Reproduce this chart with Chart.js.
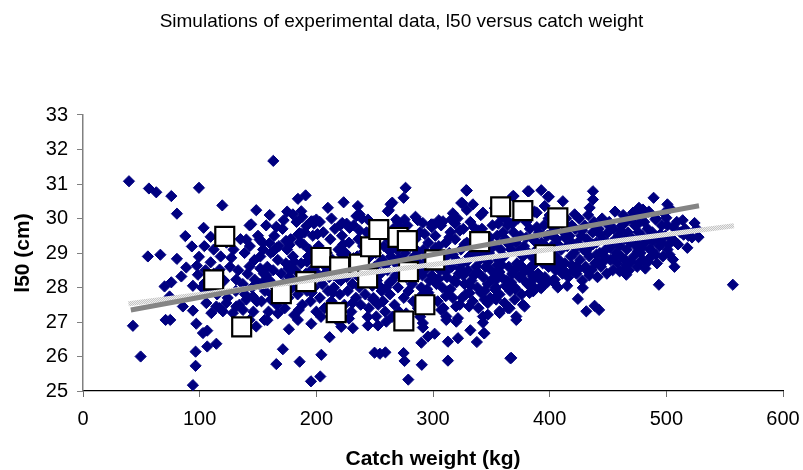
<!DOCTYPE html>
<html><head><meta charset="utf-8">
<script src="https://cdn.jsdelivr.net/npm/chart.js@4.4.0/dist/chart.umd.min.js"></script>
<style>html,body{margin:0;padding:0;background:#fff}#wrap{width:803px;height:470px}</style>
</head><body><div id="wrap"><canvas id="c" width="803" height="470"></canvas></div>
<script>
const chartTitle = 'Simulations of experimental data, l50 versus catch weight';
const xTitle = 'Catch weight (kg)';
const yTitle = 'l50 (cm)';
const xTicks = [0, 100, 200, 300, 400, 500, 600];
const yTicks = [25, 26, 27, 28, 29, 30, 31, 32, 33];

// experimental data (white squares)
const expWeight = [112, 121.5, 136, 170, 191, 204, 217, 220, 237, 244, 246.5, 253.5, 270, 278, 279, 275, 293, 301.5, 340, 358, 377, 407, 396];
const expL50    = [28.22, 29.48, 26.86, 27.82, 28.17, 28.87, 27.27, 28.6, 28.68, 28.28, 29.18, 29.68, 29.45, 29.36, 28.46, 27.03, 27.5, 28.8, 29.33, 30.34, 30.23, 30.02, 28.95];

// trend lines (end points)
const trendExpX = [41, 528];
const trendExpY = [27.35, 30.37];
const trendSimX = [39, 558];
const trendSimY = [27.53, 29.79];

// simulated data (navy diamonds), [catch weight, l50]
const simLeft = [[39.4,31.08],[56.5,30.87],[62.8,30.76],[75.7,30.65],[99.4,30.89],[80.5,30.14],[119.4,30.38],[148.5,30.24],[103.4,29.73],[87.7,29.49],[93.3,29.19],[109.4,29.47],[142.8,29.8],[55.6,28.9],[66.3,28.95],[80.5,28.83],[99.4,28.89],[97.6,28.63],[88.5,28.58],[84.3,28.32],[69.9,28.03],[75.7,28.15],[94.2,28.05],[74.2,27.74],[85.6,27.45],[94.2,27.33],[70.8,27.06],[74.8,27.06],[42.8,26.89],[97.1,26.95],[106.5,26.75],[106.5,26.29],[114.3,26.37],[96.5,26.14],[49.4,26.0],[96.5,25.73],[94.2,25.17],[109.4,28.73],[117.1,28.52],[127.1,28.86],[131.4,28.23],[140,29.39],[138.5,29.0],[142.8,28.61],[147.1,28.23],[151.4,29.39],[105.7,27.55],[114.3,27.45],[122.8,27.55],[131.4,27.45],[140,27.65],[145.6,27.74],[110,27.26],[119.9,27.31],[128.5,27.26],[137.1,27.35],[142.8,27.06],[148.5,26.87],[102.8,26.68],[98.5,28.37],[104.2,28.13]];

const simUpper = [[163.1,31.67],[184.2,30.57],[190.8,30.67],[179.9,30.12],[187.1,30.21],[195.7,29.92],[200,29.97],[209.9,30.31],[223.4,30.47],[235.6,30.36],[234.3,30.07],[220.5,29.8],[228.5,29.73],[165.7,29.76],[191.4,29.78],[184.2,29.53],[262.2,30.24],[265.1,30.46],[276.5,30.89],[274.8,30.6],[275.6,29.97],[291.3,29.87],[244.2,29.97],[268.5,29.97],[144.2,29.83],[160,29.29],[154.3,29.1],[177.1,29.24],[185.7,29.58],[197.1,29.92],[222.2,29.87],[237.1,30.12],[263.6,30.41],[261.3,30.21],[328.5,30.82],[324.2,30.45],[334.2,30.41],[298.5,29.83],[307.1,29.87],[315.7,29.97],[342.8,30.17]];

const simLower = [[155.7,27.06],[176.5,26.79],[184.2,27.06],[195.7,26.95],[211.4,26.56],[171.3,26.21],[165.7,25.78],[185.7,25.85],[204.3,26.05],[195.4,25.28],[203.4,25.42],[221.4,26.86],[231.3,26.82],[244.2,26.9],[252.8,26.9],[249.9,26.11],[259.2,26.12],[254.5,26.08],[274.8,26.1],[275.6,25.87],[278.8,25.33],[290.4,25.76],[290,26.4],[291.3,26.84],[295.7,26.58],[301.4,26.66],[312.8,26.43],[321.4,26.53],[312.8,25.88],[332,26.76],[337.6,26.42],[344,26.67],[342.8,26.98],[367.1,25.96],[371.4,27.06],[320,27.01],[311.4,27.06],[248.5,27.65],[311.4,27.16],[321.4,27.11],[319.7,27.45],[342.8,27.16],[331.4,27.84],[344.2,27.65],[257.1,27.6],[251.4,27.16],[260,27.01],[291.3,26.97]];

const simRight = [[329,30.81],[325.1,30.45],[381.3,30.79],[392.8,30.82],[398.5,30.63],[411.3,30.5],[437.1,30.79],[437.1,30.55],[434.3,30.31],[369.1,30.65],[300,29.83],[318.5,30.02],[308.5,29.92],[382.2,30.79],[399.3,30.63],[368.5,30.65],[421.4,30.12],[388.9,30.17],[395.7,30.36],[347,27.21],[354.2,27.65],[357.1,27.31],[364.3,27.4],[378.5,27.45],[385.9,27.89],[393.1,28.03],[404.2,28.23],[411.3,28.47],[428.4,27.99],[424.2,27.67],[431.4,27.31],[438.5,27.47],[343.6,26.68],[366.3,25.95],[489.1,30.6],[500.9,30.41],[476.5,30.31],[479.9,30.26],[471.4,30.17],[500,30.02],[490.8,29.97],[500.9,29.8],[524.2,29.87],[527.6,29.46],[514.8,29.53],[507.1,29.34],[495.7,29.31],[488.5,29.34],[475.6,29.29],[475.6,29.05],[502.8,28.95],[505.7,28.81],[484.2,28.76],[477.1,28.71],[465.7,28.66],[442.8,28.71],[460,28.47],[465.7,28.37],[493.6,28.08],[557,28.08],[442.4,27.35],[354.3,28.23],[364.3,28.18],[377.1,28.42],[385.7,28.32],[394.3,28.23],[414.3,28.42],[422.8,28.61],[431.4,28.52],[440,28.71],[385.7,28.03],[392.8,27.98],[404.2,28.13],[352.8,27.69],[361.4,27.55],[370,27.65],[377.1,27.5],[382.8,27.84],[357.1,27.26],[371.4,27.16],[365.7,27.4]];

const simCoreA = [[102,28.0],[105,28.5],[108,27.9],[112,28.4],[115,27.8],[118,28.9],[121,28.2],[124,27.7],[126,28.6],[129,29.1],[131,27.9],[133,28.5],[135,29.4],[137,28.1],[139,27.8],[141,28.4],[143,29.2],[145,28.0],[147,28.8],[149,27.6],[150,29.5],[112,29.1],[123,29.3],[134,27.5],[146,27.3],[104,29.2],[117,27.4],
[151,28.1],[152,28.9],[153,27.6],[154,29.3],[155,28.4],[156,27.9],[157,29.8],[158,28.6],[159,27.3],[160,28.2],[161,29.0],[162,27.8],[163,28.5],[164,29.5],[165,28.0],[166,27.5],[167,28.8],[168,29.2],[169,27.9],[170,28.4],[171,29.7],[172,28.1],[173,27.4],[174,28.7],[175,29.1],[176,27.7],[177,28.3],[178,29.4],[179,28.0],[180,28.9],[181,27.2],[182,28.5],[183,29.9],[184,27.8],[185,28.2],[186,29.3],[187,28.7],[188,27.5],[189,28.0],[190,29.6],[191,28.4],[192,27.9],[193,28.9],[194,29.1],[195,27.6],[196,28.3],[197,29.5],[198,28.0],[199,28.6],[200,27.3],[154,28.15],[158,27.05],[163,29.05],[167,27.25],[172,29.95],[176,28.55],[181,28.75],[185,27.35],[189,29.25],[194,28.45],[198,29.85],[160,30.1],[175,30.2],[188,30.05]];

const simCoreB = [[201,28.4],[202,29.2],[203,27.7],[204,28.9],[205,28.1],[206,29.6],[207,27.4],[208,28.6],[209,29.0],[210,27.9],[211,28.3],[212,29.4],[213,27.6],[214,28.8],[215,28.0],[216,29.7],[217,27.2],[218,28.5],[219,29.1],[220,27.8],[221,28.2],[222,29.5],[223,28.7],[224,27.5],[225,29.0],[226,28.3],[227,27.9],[228,29.3],[229,28.6],[230,27.3],[231,28.1],[232,29.8],[233,28.4],[234,27.7],[235,28.9],[236,29.4],[237,28.0],[238,27.5],[239,28.7],[240,29.2],[241,28.3],[242,27.8],[243,29.6],[244,28.5],[245,27.4],[246,28.9],[247,28.1],[248,29.3],[249,27.7],[250,28.6],[251,29.0],[252,28.2],[253,27.5],[254,29.5],[255,28.4],[256,27.9],[257,28.8],[258,29.2],[259,27.3],[260,28.0],[204,27.15],[209,28.45],[213,30.0],[218,27.05],[222,28.95],[226,29.85],[231,27.55],[235,28.35],[239,30.0],[244,27.15],[248,28.05],[252,29.75],[257,27.6],[203,29.9],[215,28.35],[228,27.1],[241,29.05],[255,28.75],
[261,28.5],[262,29.4],[263,27.8],[264,28.9],[265,28.2],[266,29.7],[267,27.5],[268,28.7],[269,29.1],[270,28.0],[271,27.3],[272,28.4],[273,29.5],[274,28.8],[275,27.7],[276,29.0],[277,28.3],[278,29.8],[279,27.9],[280,28.6],[281,29.2],[282,28.1],[283,27.6],[284,28.9],[285,29.4],[286,28.4],[287,27.4],[288,28.7],[289,29.6],[290,28.0],[291,27.8],[292,29.1],[293,28.5],[294,27.5],[295,28.8],[296,29.3],[297,28.2],[298,27.7],[299,29.0],[300,28.6],[263,28.15],[267,29.25],[271,28.85],[275,28.35],[279,29.45],[283,28.55],[287,29.95],[291,28.35],[295,27.95],[299,29.75],[265,27.15],[277,27.25],[289,27.15],[270,29.9],[285,30.05]];

const simCoreC = [[301,28.9],[302,29.5],[303,28.1],[304,27.6],[305,29.2],[306,28.5],[307,29.8],[308,28.0],[309,27.4],[310,28.7],[311,29.3],[312,28.3],[313,27.9],[314,29.0],[315,29.6],[316,28.6],[317,27.7],[318,28.2],[319,29.4],[320,28.8],[321,30.0],[322,28.4],[323,27.5],[324,29.1],[325,28.7],[326,29.7],[327,28.1],[328,27.8],[329,29.3],[330,28.5],[331,28.9],[332,29.9],[333,28.2],[334,27.6],[335,29.0],[336,29.5],[337,28.6],[338,28.0],[339,27.4],[340,28.8],[341,29.2],[342,29.7],[343,28.3],[344,27.9],[345,28.6],[346,29.4],[347,28.1],[348,29.0],[349,27.7],[350,28.5],[351,29.8],[352,29.2],[353,28.4],[354,28.0],[355,29.5],[356,28.8],[357,27.8],[358,29.1],[359,28.3],[360,29.6],[303,28.65],[307,27.35],[311,28.45],[315,27.95],[319,29.85],[323,28.55],[327,29.25],[331,27.45],[335,28.35],[339,29.65],[343,28.95],[347,27.55],[351,28.25],[355,28.65],[359,30.05],[305,29.95],[317,30.15],[329,30.25],[341,30.1],[353,30.3],[313,28.95],[325,27.7],[337,29.05],[349,29.45],[357,28.45],
[361,28.9],[362,29.4],[363,28.2],[364,29.8],[365,28.6],[366,27.9],[367,29.1],[368,28.4],[369,29.6],[370,28.0],[371,29.3],[372,28.7],[373,30.0],[374,28.3],[375,29.5],[376,27.8],[377,28.9],[378,29.2],[379,28.5],[380,29.9],[381,28.1],[382,29.0],[383,29.7],[384,28.6],[385,28.2],[386,29.4],[387,30.2],[388,28.8],[389,29.1],[390,28.4],[391,29.6],[392,28.0],[393,29.3],[394,28.7],[395,29.8],[396,28.3],[397,29.0],[398,29.5],[399,28.6],[400,30.1],[401,28.9],[402,29.2],[403,28.2],[404,29.7],[405,28.5],[406,29.4],[407,28.0],[408,28.8],[409,29.9],[410,29.1],[411,28.4],[412,29.6],[413,28.7],[414,30.0],[415,29.2],[416,28.3],[417,29.5],[418,28.9],[419,29.8],[420,28.5],[363,29.95],[367,28.15],[371,27.95],[375,28.65],[379,30.15],[383,28.45],[387,29.35],[391,28.25],[395,28.95],[399,30.0],[403,29.5],[407,28.65],[411,29.85],[415,28.05],[419,29.3]];

const simCoreD = [[421,29.0],[422,29.7],[423,28.4],[424,29.3],[425,30.0],[426,28.8],[427,29.5],[428,28.2],[429,29.1],[430,29.8],[431,28.6],[432,29.4],[433,30.1],[434,28.9],[435,29.2],[436,28.5],[437,29.6],[438,29.9],[439,28.7],[440,29.3],[441,28.3],[442,29.7],[443,29.0],[444,28.6],[445,30.0],[446,29.4],[447,28.9],[448,29.1],[449,28.4],[450,29.6],[451,29.9],[452,28.8],[453,29.3],[454,28.5],[455,29.7],[456,30.2],[457,29.0],[458,28.7],[459,29.5],[460,29.2],[461,28.9],[462,29.8],[463,30.1],[464,29.4],[465,28.8],[466,29.1],[467,29.6],[468,28.5],[469,29.3],[470,30.0],
[471,29.4],[472,28.9],[473,29.8],[474,29.2],[475,28.6],[476,29.6],[477,30.1],[478,29.0],[479,29.5],[480,28.8],[481,29.9],[482,29.3],[483,28.7],[484,29.7],[485,30.2],[486,29.1],[487,28.9],[488,29.6],[490,29.4],[491,30.0],[492,28.7],[494,29.2],[496,29.8],[497,28.9],[499,29.5],[501,29.1],[503,30.3],[505,29.4],[507,28.6],[509,29.9],[512,29.6],[516,29.7],[519,29.5]];

const simCoreE = [[281,28.75],[284,28.25],[287,29.05],[290,28.55],[293,29.55],[296,27.85],[299,28.35],[302,29.15],[305,28.25],[308,28.85],[311,27.75],[314,29.45],[317,28.95],[320,28.15],[323,29.65],[326,28.35],[329,28.75],[332,28.05],[335,29.75],[338,28.45],[341,27.85],[344,29.35],[347,28.75],[350,29.15],[353,27.95],[356,29.85],[359,28.65],[362,28.05],[365,29.25],[368,29.85],[371,28.55],[374,29.05],[377,28.25],[380,29.45],[383,28.95],[386,28.65],[389,29.75],[392,28.85],[395,29.25],[398,28.15],[401,29.55],[404,28.95],[407,29.25],[410,28.55],[413,29.45],[416,29.75],[419,28.65],[422,29.15],[425,28.55],[428,29.65],[431,29.05],[434,28.35],[437,29.25],[440,28.95],[443,29.55],[446,28.75],[449,29.85],[452,29.15],[455,28.85],[458,29.45],[461,29.65],[464,28.55],[467,29.95],[470,28.75],[473,29.35],[476,29.85],[479,29.15],[482,28.55],[485,29.45],[488,29.05],[491,28.95],[495,29.55],[498,30.15],[502,29.25],[506,29.75],[510,29.25],[514,29.95],[518,29.15],[522,29.45],[526,29.7],
[152,28.55],[157,28.35],[161,27.65],[166,29.15],[170,27.75],[174,29.35],[179,28.55],[183,28.05],[187,29.55],[192,28.75],[196,27.85],[201,29.55],[206,28.35],[210,28.75],[214,27.85],[219,28.25],[223,29.25],[228,28.45],[232,28.85],[237,29.65],[241,28.55],[246,28.25],[250,29.35],[254,28.05],[259,28.65],[263,29.05],[268,28.35],[272,29.75],[276,28.55]];

const FONT = "'Liberation Sans', Arial, Helvetica, sans-serif";
Chart.defaults.font.family = FONT;
Chart.defaults.color = '#000';

const toXY = arr => arr.map(p => ({x: p[0], y: p[1]}));
const simAll = toXY([].concat(simLeft, simUpper, simLower, simRight, simCoreA, simCoreB, simCoreC, simCoreD, simCoreE));
const expAll = expWeight.map((x, i) => ({x, y: expL50[i]}));
const trendExp = trendExpX.map((x, i) => ({x, y: trendExpY[i]}));
const trendSim = trendSimX.map((x, i) => ({x, y: trendSimY[i]}));

// light speckled pattern for the simulated-data trend line
const pc = document.createElement('canvas');
pc.width = 2; pc.height = 2;
const pg = pc.getContext('2d');
pg.fillStyle = '#c4c4c4'; pg.fillRect(0, 0, 2, 2);
pg.fillStyle = '#eeeeee'; pg.fillRect(0, 0, 1, 1); pg.fillRect(1, 1, 1, 1);
const lightPattern = pg.createPattern(pc, 'repeat');

new Chart(document.getElementById('c'), {
  type: 'scatter',
  data: {
    datasets: [
      {label: 'Trend (experimental)', data: trendExp, showLine: true, borderColor: '#858585', borderWidth: 5, pointRadius: 0, order: 0, clip: false},
      {label: 'Trend (simulated)', data: trendSim, showLine: true, borderColor: lightPattern, borderWidth: 5, pointRadius: 0, order: 1, clip: false},
      {label: 'Experimental', data: expAll, pointStyle: 'rect', pointRadius: 13.4, backgroundColor: '#ffffff', borderColor: '#000000', borderWidth: 2.2, order: 2, clip: false},
      {label: 'Simulated', data: simAll, pointStyle: 'rectRot', pointRadius: 5.6, backgroundColor: '#000080', borderColor: '#000080', borderWidth: 1, order: 3, clip: false}
    ]
  },
  options: {
    responsive: false,
    animation: false,
    devicePixelRatio: 1,
    events: [],
    layout: {padding: {left: 0, right: 0, top: 0, bottom: 0}},
    plugins: {
      legend: {display: false},
      tooltip: {enabled: false},
      title: {
        display: true, text: chartTitle, color: '#000',
        font: {family: FONT, size: 19, weight: 'normal', lineHeight: 1.2},
        padding: {top: 10.6, bottom: 81.6}
      }
    },
    scales: {
      x: {
        type: 'linear', min: 0, max: 600,
        afterBuildTicks: s => { s.ticks = xTicks.map(v => ({value: v})); },
        afterFit: s => { s.height = 79; s.paddingLeft = 0; s.paddingRight = 20; },
        border: {display: true, color: '#000', width: 1.2},
        grid: {drawOnChartArea: false, drawTicks: true, tickLength: 6, color: '#6a6a6a', lineWidth: 1},
        ticks: {color: '#000', font: {family: FONT, size: 20}, padding: 10, maxRotation: 0},
        title: {display: true, text: xTitle, color: '#000', font: {family: FONT, size: 21, weight: 'bold', lineHeight: 1}, padding: {top: 0, bottom: 0.5}}
      },
      y: {
        type: 'linear', min: 25, max: 33,
        afterBuildTicks: s => { s.ticks = yTicks.map(v => ({value: v})); },
        afterFit: s => { s.width = 83; s.paddingTop = 0; s.paddingBottom = 0; },
        border: {display: true, color: '#808080', width: 1.5},
        grid: {drawOnChartArea: false, drawTicks: true, tickLength: 6, color: '#808080', lineWidth: 1},
        ticks: {color: '#000', font: {family: FONT, size: 20}, padding: 9},
        title: {display: true, text: yTitle, color: '#000', font: {family: FONT, size: 21, weight: 'bold', lineHeight: 1}, padding: {top: 12.5, bottom: 0}}
      }
    }
  }
});
</script>
</body></html>
